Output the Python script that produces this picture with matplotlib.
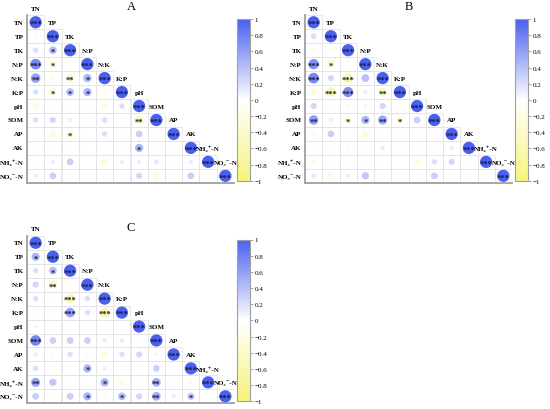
import numpy as np
import matplotlib
matplotlib.use('Agg')
import matplotlib.pyplot as plt
import matplotlib.patches as patches
from matplotlib.colors import LinearSegmentedColormap, Normalize
from matplotlib.cm import ScalarMappable

plt.rcParams['font.family'] = ['Liberation Serif', 'DejaVu Serif']

names = ['TN', 'TP', 'TK', 'N:P', 'N:K', 'K:P', 'pH', 'SOM', 'AP', 'AK', 'NH₄⁺-N', 'NO₃⁻-N']

# lower triangle, row i holds correlations with columns 0..i-1
r_A = [
    [0.05],
    [0.2, 0.4],
    [0.75, -0.35, -0.1],
    [0.6, -0.15, -0.45, 0.45],
    [0.2, -0.35, 0.4, 0.45, -0.15],
    [-0.25, -0.1, 0.02, -0.12, -0.25, 0.2],
    [0.2, 0.25, 0.1, 0.03, 0.2, 0.03, -0.5],
    [-0.12, -0.25, -0.35, 0.03, 0.2, -0.08, 0.3, -0.1],
    [0.02, -0.08, -0.05, 0.03, 0.02, 0.02, 0.45, -0.12, 0.05],
    [0.02, 0.12, 0.3, -0.05, -0.3, 0.12, 0.1, 0.15, 0.02, 0.12],
    [0.1, 0.3, 0.02, 0.05, -0.08, 0.05, 0.25, -0.25, -0.12, 0.3, -0.1],
]
sig_A = [
    [''],
    ['', '*'],
    ['***', '*', ''],
    ['**', '', '**', '*'],
    ['', '*', '*', '*', ''],
    ['', '', '', '', '', ''],
    ['', '', '', '', '', '', '**'],
    ['', '', '*', '', '', '', '', ''],
    ['', '', '', '', '', '', '*', '', ''],
    ['', '', '', '', '', '', '', '', '', ''],
    ['', '', '', '', '', '', '', '', '', '', ''],
]

r_B = [
    [0.2],
    [-0.15, -0.15],
    [0.7, -0.4, 0.02],
    [0.75, 0.25, -0.6, 0.4],
    [-0.3, -0.6, 0.7, 0.12, -0.5],
    [0.25, 0.02, -0.15, 0.08, 0.25, -0.1],
    [0.6, 0.1, -0.35, 0.45, 0.55, -0.35, 0.3],
    [-0.15, 0.3, -0.1, -0.3, -0.05, -0.08, 0.02, 0.02],
    [0.02, 0.05, -0.12, 0.02, 0.12, 0.05, 0.02, 0.02, 0.12],
    [-0.2, -0.05, 0.02, -0.08, -0.05, 0.02, -0.25, 0.2, 0.25, 0.02],
    [0.15, -0.25, 0.1, 0.35, 0.05, 0.02, 0.05, 0.3, -0.1, -0.2, 0.02],
]
sig_B = [
    [''],
    ['', ''],
    ['***', '*', ''],
    ['***', '', '***', ''],
    ['', '***', '***', '', '**'],
    ['', '', '', '', '', ''],
    ['**', '', '*', '*', '**', '*', ''],
    ['', '', '', '', '', '', '', ''],
    ['', '', '', '', '', '', '', '', ''],
    ['', '', '', '', '', '', '', '', '', ''],
    ['', '', '', '', '', '', '', '', '', '', ''],
]

r_C = [
    [0.45],
    [0.2, 0.4],
    [0.25, -0.5, -0.12],
    [0.2, -0.05, -0.6, 0.2],
    [0.02, -0.1, 0.6, 0.2, -0.65],
    [0.08, 0.03, 0.03, 0.02, -0.05, -0.05],
    [0.75, 0.3, 0.3, 0.3, 0.12, 0.12, 0.02],
    [0.12, 0.05, 0.2, 0.05, -0.25, 0.2, 0.25, 0.08],
    [0.2, -0.1, -0.05, 0.45, 0.1, 0.05, 0.02, 0.3, -0.05],
    [0.55, 0.35, 0.02, 0.02, 0.45, -0.25, 0.02, 0.5, 0.02, 0.05],
    [0.3, -0.05, 0.3, 0.45, -0.15, 0.4, 0.25, 0.5, 0.12, 0.35, 0.02],
]
sig_C = [
    ['*'],
    ['', '*'],
    ['', '**', ''],
    ['', '', '***', ''],
    ['', '', '***', '', '***'],
    ['', '', '', '', '', ''],
    ['***', '', '', '', '', '', ''],
    ['', '', '', '', '', '', '', ''],
    ['', '', '', '*', '', '', '', '', ''],
    ['**', '', '', '', '*', '', '', '**', '', ''],
    ['', '', '', '*', '', '*', '', '**', '', '*', ''],
]

cmap = LinearSegmentedColormap.from_list('yw_b', ['#F6F37C', '#FFFFFF', '#4A60F0'])
norm = Normalize(-1, 1)

W, H = 550, 410
fig = plt.figure(figsize=(5.5, 4.1), dpi=100)


def px_rect(left, top, w, h):
    return [left / W, 1 - (top + h) / H, w / W, h / H]


def draw_panel(r_low, sig_low, dx, dy, title):
    n = len(names)
    ax = fig.add_axes(px_rect(27 + dx, 16.3 + dy, 207, 167.5))
    ax.set_xlim(-0.5, n - 0.5)
    ax.set_ylim(n - 0.5, -0.5)
    ax.set_xticks([])
    ax.set_yticks([])
    for s in ['top', 'right']:
        ax.spines[s].set_visible(False)
    for s in ['left', 'bottom']:
        ax.spines[s].set_color('#a0a0a0')
        ax.spines[s].set_linewidth(1.3)

    xs, ys, vals, stars = [], [], [], []
    for i in range(n):
        for j in range(i + 1):
            ax.add_patch(patches.Rectangle((j - 0.5, i - 0.5), 1, 1, fill=False,
                                           edgecolor='#e4e4e4', lw=0.6))
            if i == j:
                v, st = 1.0, '***'
            else:
                v, st = r_low[i - 1][j], sig_low[i - 1][j]
            xs.append(j)
            ys.append(i)
            vals.append(v)
            stars.append(st)
    vals = np.array(vals)
    ax.scatter(xs, ys, s=78 * np.abs(vals), c=vals, cmap=cmap, norm=norm,
               edgecolors='none', zorder=3)
    for x, y, st in zip(xs, ys, stars):
        if st:
            ax.text(x, y + 0.12, st, ha='center', va='center', fontsize=6,
                    color='#1c1c3a', fontweight='bold', zorder=4)

    for i, nm in enumerate(names):
        ax.text(-0.7, i, nm, ha='right', va='center', fontsize=5,
                fontweight='bold', clip_on=False)
        ax.text(i, i - 1, nm, ha='center', va='center', fontsize=5,
                fontweight='bold', clip_on=False)

    fig.text((131 + dx) / W, 1 - (7.5 + dy) / H, title, ha='center', va='center',
             fontsize=9)

    cax = fig.add_axes(px_rect(237 + dx, 20 + dy, 12.5, 161.7))
    cb = fig.colorbar(ScalarMappable(norm=norm, cmap=cmap), cax=cax,
                      ticks=np.arange(-1, 1.01, 0.2))
    cb.outline.set_edgecolor('#a0a0a0')
    cb.outline.set_linewidth(0.8)
    cb.ax.set_yticklabels(['−1', '−0.8', '−0.6', '−0.4', '−0.2', '0',
                           '0.2', '0.4', '0.6', '0.8', '1'])
    cb.ax.tick_params(labelsize=5, length=2, width=0.5, color='#808080', pad=1.5)


draw_panel(r_A, sig_A, 0, 0, 'A')
draw_panel(r_B, sig_B, 278, 0, 'B')
draw_panel(r_C, sig_C, 0, 220.5, 'C')

fig.savefig('out.png', dpi=100, facecolor='white')
